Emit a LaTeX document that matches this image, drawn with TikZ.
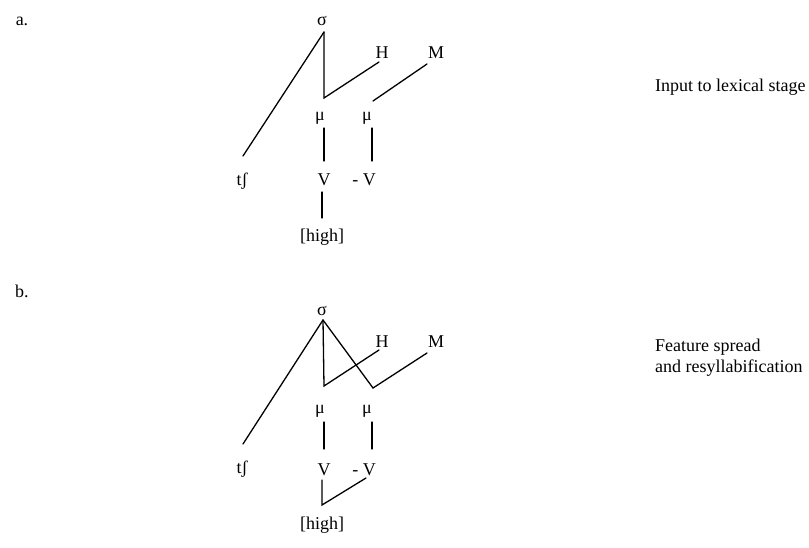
\documentclass[tikz,border=0pt]{standalone}
\usepackage{fontspec}
\setmainfont{Liberation Serif}
\usepackage{tikz}
\usetikzlibrary{positioning}
\tikzstyle{seg}=[inner sep=0pt, font=\fontsize{18}{21}\selectfont]
\tikzstyle{note}=[inner sep=0pt, anchor=west, align=left, font=\fontsize{18}{21}\selectfont]
\tikzstyle{assoc}=[line width=1.3pt, line cap=round, line join=miter]

\begin{document}
\begin{tikzpicture}[x=1pt, y=-1pt]
	\useasboundingbox (0,0) rectangle (809,548);
	
	% (a) input to lexical stage
	\node (labelA) [seg] at (22,21) {a.};
	\node (sigmaA) [seg] at (322,21) {σ};
	\node (toneHA) [seg] at (382,53) {H};
	\node (toneMA) [seg] at (436,53) {M};
	\node (muOneA) [seg] at (320,118) {μ};
	\node (muTwoA) [seg] at (367,118) {μ};
	\node (onsetA) [seg] at (242,181) {tʃ};
	\node (vowOneA) [seg] at (324,180) {V};
	\node (vowTwoA) [seg] at (364,180) {- V};
	\node (highA) [seg] at (322,237) {[high]};
	\node (noteA) [note] at (655,87) {Input to lexical stage};
	
	\coordinate (apexA) at (324,32);
	\coordinate (kneeA) at (324,98);
	\coordinate (kneeMA) at (373,101);
	
	\draw [assoc] (apexA) -- (243,156);
	\draw [assoc] (apexA) -- (kneeA) -- (379,62);
	\draw [assoc] (427,64) -- (kneeMA);
	\draw [assoc] (324,128) -- (324,161);
	\draw [assoc] (372,128) -- (372,161);
	\draw [assoc] (322,192) -- (322,218);
	
	% (b) feature spread and resyllabification
	\node (labelB) [seg] at (22,291) {b.};
	\node (sigmaB) [seg] at (322,311) {σ};
	\node (toneHB) [seg] at (382,342) {H};
	\node (toneMB) [seg] at (436,342) {M};
	\node (muOneB) [seg] at (320,411) {μ};
	\node (muTwoB) [seg] at (367,411) {μ};
	\node (onsetB) [seg] at (242,469) {tʃ};
	\node (vowOneB) [seg] at (324,470) {V};
	\node (vowTwoB) [seg] at (364,470) {- V};
	\node (highB) [seg] at (322,525) {[high]};
	\node (noteB) [note] at (655,358) {Feature spread\\and resyllabification};
	
	\coordinate (apexB) at (323,320);
	\coordinate (kneeB) at (324,386);
	\coordinate (kneeMB) at (373,388);
	\coordinate (footB) at (322,505);
	
	\draw [assoc] (apexB) -- (243,444);
	\draw [assoc] (apexB) -- (kneeB) -- (379,350);
	\draw [assoc] (apexB) -- (kneeMB) -- (427,353);
	\draw [assoc] (324,422) -- (324,449);
	\draw [assoc] (372,422) -- (372,449);
	\draw [assoc] (322,480) -- (footB) -- (366,478);
	
\end{tikzpicture}
\end{document}
